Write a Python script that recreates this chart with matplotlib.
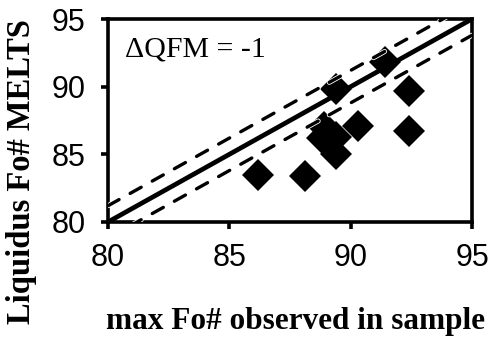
import matplotlib
matplotlib.use("Agg")
import matplotlib.pyplot as plt
import matplotlib.patheffects as pe
import numpy as np

# Observed maximum olivine Fo# vs. MELTS liquidus Fo# at dQFM = -1
fo_observed = [86.2, 88.1, 88.8, 88.9, 89.4, 89.4, 90.3, 89.4, 91.4, 92.4, 92.4]
fo_melts    = [83.5, 83.4, 86.2, 87.0, 86.3, 85.0, 87.1, 89.8, 91.8, 89.7, 86.7]

one_to_one = [80, 95]
band = 1.2

x_ticks = [80, 85, 90, 95]
y_ticks = [80, 85, 90, 95]

fig = plt.figure(figsize=(4.97, 3.43), dpi=100)
ax = fig.add_axes([0.2173, 0.3528, 0.7324, 0.5918])

ax.plot(fo_observed, fo_melts, linestyle="none", marker="D", ms=16.5,
        mfc="black", mec="black", mew=0, zorder=2, clip_on=False)

halo = [pe.Stroke(linewidth=3.6, foreground="white"), pe.Normal()]
ax.plot(one_to_one, one_to_one, color="black", lw=3.4, solid_capstyle="butt", zorder=3)
ax.plot(one_to_one, np.array(one_to_one) + band, color="black", lw=2.4,
        dashes=(3.8, 3.8), dash_capstyle="round", zorder=3, path_effects=halo)
ax.plot(one_to_one, np.array(one_to_one) - band, color="black", lw=2.4,
        dashes=(3.8, 3.8), dash_capstyle="round", zorder=3, path_effects=halo)

ax.set_xlim(80, 95)
ax.set_ylim(80, 95)
ax.set_xticks(x_ticks)
ax.set_yticks(y_ticks)

for side in ["left", "right", "top", "bottom"]:
    ax.spines[side].set_linewidth(2.6)

ax.tick_params(axis="both", direction="out", length=5, width=2.6, labelsize=22)
ax.tick_params(axis="x", pad=10)
ax.tick_params(axis="y", pad=11)
for lab in ax.get_xticklabels() + ax.get_yticklabels():
    lab.set_fontfamily("Liberation Sans")

ax.text(0.047, 0.85, "ΔQFM = -1", transform=ax.transAxes,
        fontsize=21.5, family="Liberation Serif", va="center", ha="left")

fig.text(295 / 497, 1 - 322 / 343, "max Fo# observed in sample", fontsize=22.5,
         family="Liberation Serif", fontweight="bold", ha="center", va="center")
fig.text(22 / 497, 1 - 172 / 343, "Liquidus Fo# MELTS", fontsize=23.5,
         family="Liberation Serif", fontweight="bold", ha="center", va="center",
         rotation=90)

fig.savefig("out.png", dpi=100)
